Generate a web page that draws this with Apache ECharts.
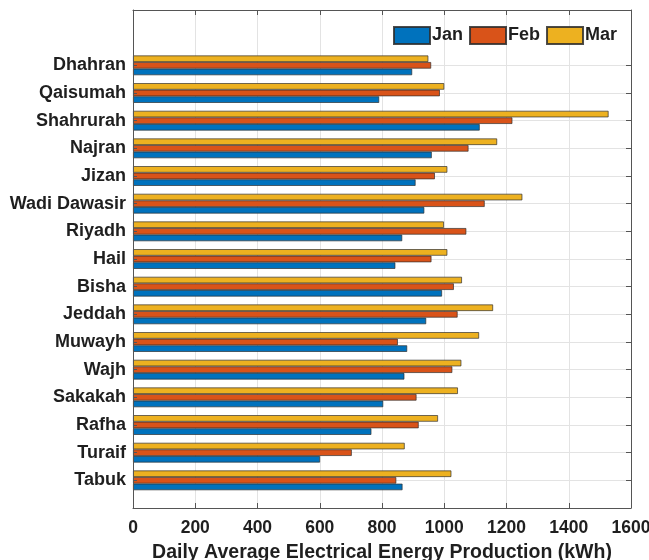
<!DOCTYPE html>
<html>
<head>
<meta charset="utf-8">
<script src="https://cdn.jsdelivr.net/npm/echarts@6/dist/echarts.min.js"></script>
<style>
  html, body { margin: 0; padding: 0; background: #fff; }
  #chart { width: 649px; height: 560px; }
</style>
</head>
<body>
<div id="chart"></div>
<script>
// Stations, listed top to bottom
const cities = ['Dhahran', 'Qaisumah', 'Shahrurah', 'Najran', 'Jizan', 'Wadi Dawasir', 'Riyadh', 'Hail',
  'Bisha', 'Jeddah', 'Muwayh', 'Wajh', 'Sakakah', 'Rafha', 'Turaif', 'Tabuk'];

// Daily average electrical energy production (kWh) per month
const jan = [897, 791, 1114, 960, 908, 936, 865, 843, 993, 942, 881, 872, 804, 766, 601, 866];
const feb = [958, 986, 1219, 1078, 970, 1130, 1071, 959, 1031, 1043, 851, 1026, 911, 918, 703, 846];
const mar = [949, 1000, 1528, 1170, 1010, 1251, 999, 1010, 1057, 1157, 1112, 1055, 1044, 980, 873, 1023];

const months = ['Jan', 'Feb', 'Mar'];
const monthColors = ['#0072BD', '#D95319', '#EDB120'];

// x axis ticks
const xMin = 0, xMax = 1600, xStep = 200;

// Empty slots leave room for the legend above and a margin below
const padTop = 2, padBottom = 1;
const axisCats = [...Array(padTop).fill(''), ...cities, ...Array(padBottom).fill('')];
const pad = arr => [...Array(padTop).fill(null), ...arr, ...Array(padBottom).fill(null)];

const FONT = '"Liberation Sans", Arial, Helvetica, sans-serif';
const TEXT = '#1f1f1f';
const FRAME = '#555555';
const GRID = '#e3e3e3';
const isCity = (i, v) => v !== '';

const frameLine = { show: true, onZero: false, lineStyle: { color: FRAME, width: 1 } };

const monthSeries = [jan, feb, mar].map((vals, k) => ({
  name: months[k],
  type: 'bar',
  xAxisIndex: 0,
  yAxisIndex: 0,
  data: pad(vals),
  barWidth: 6.6,
  barGap: '0%',
  itemStyle: {
    color: monthColors[k],
    borderColor: 'rgba(45,45,45,0.85)',
    borderWidth: 0.8
  }
}));

const chart = echarts.init(document.getElementById('chart'), null, { renderer: 'canvas' });

chart.setOption({
  animation: false,
  backgroundColor: '#fff',
  textStyle: { fontFamily: FONT },
  grid: { left: 133, right: 18, top: 10, bottom: 52, containLabel: false, outerBoundsMode: 'none' },
  legend: {
    data: months,
    left: 393,
    top: 26,
    padding: 0,
    itemGap: 6,
    itemWidth: 36,
    itemHeight: 17,
    icon: 'rect',
    textStyle: { fontFamily: FONT, fontWeight: 'bold', fontSize: 18, color: TEXT, padding: [0, 0, 0, -3] }
  },
  xAxis: [
    {
      type: 'value',
      position: 'bottom',
      min: xMin, max: xMax, interval: xStep,
      name: 'Daily Average Electrical Energy Production (kWh)',
      nameLocation: 'middle',
      nameGap: 35,
      nameTextStyle: { fontFamily: FONT, fontWeight: 'bold', fontSize: 19.5, color: TEXT },
      axisLine: frameLine,
      axisTick: { show: true, inside: true, length: 5, lineStyle: { color: FRAME } },
      axisLabel: { fontFamily: FONT, fontWeight: 'bold', fontSize: 17.5, color: TEXT, margin: 11,
        formatter: v => String(v) },
      splitLine: { show: true, lineStyle: { color: GRID, width: 1 } }
    },
    {
      type: 'value',
      position: 'top',
      min: xMin, max: xMax, interval: xStep,
      axisLine: frameLine,
      axisTick: { show: true, inside: true, length: 5, lineStyle: { color: FRAME } },
      axisLabel: { show: false },
      splitLine: { show: false }
    }
  ],
  yAxis: [
    {
      type: 'category',
      position: 'left',
      data: axisCats,
      inverse: true,
      boundaryGap: false,
      z: 10,
      axisLine: frameLine,
      axisTick: { show: true, inside: true, length: 4, interval: isCity, lineStyle: { color: FRAME } },
      axisLabel: { interval: isCity, fontFamily: FONT, fontWeight: 'bold', fontSize: 18, color: TEXT, margin: 7,
        padding: [4, 0, 0, 0] },
      splitLine: { show: false }
    },
    {
      type: 'category',
      position: 'right',
      data: axisCats,
      inverse: true,
      boundaryGap: false,
      axisLine: frameLine,
      axisTick: { show: true, inside: true, length: 5, interval: isCity, lineStyle: { color: FRAME } },
      axisLabel: { show: false },
      splitLine: { show: true, interval: isCity, lineStyle: { color: GRID, width: 1 } }
    }
  ],
  // Mar is stacked at the top of each group, Jan at the bottom
  series: monthSeries.slice().reverse()
});
</script>
</body>
</html>
